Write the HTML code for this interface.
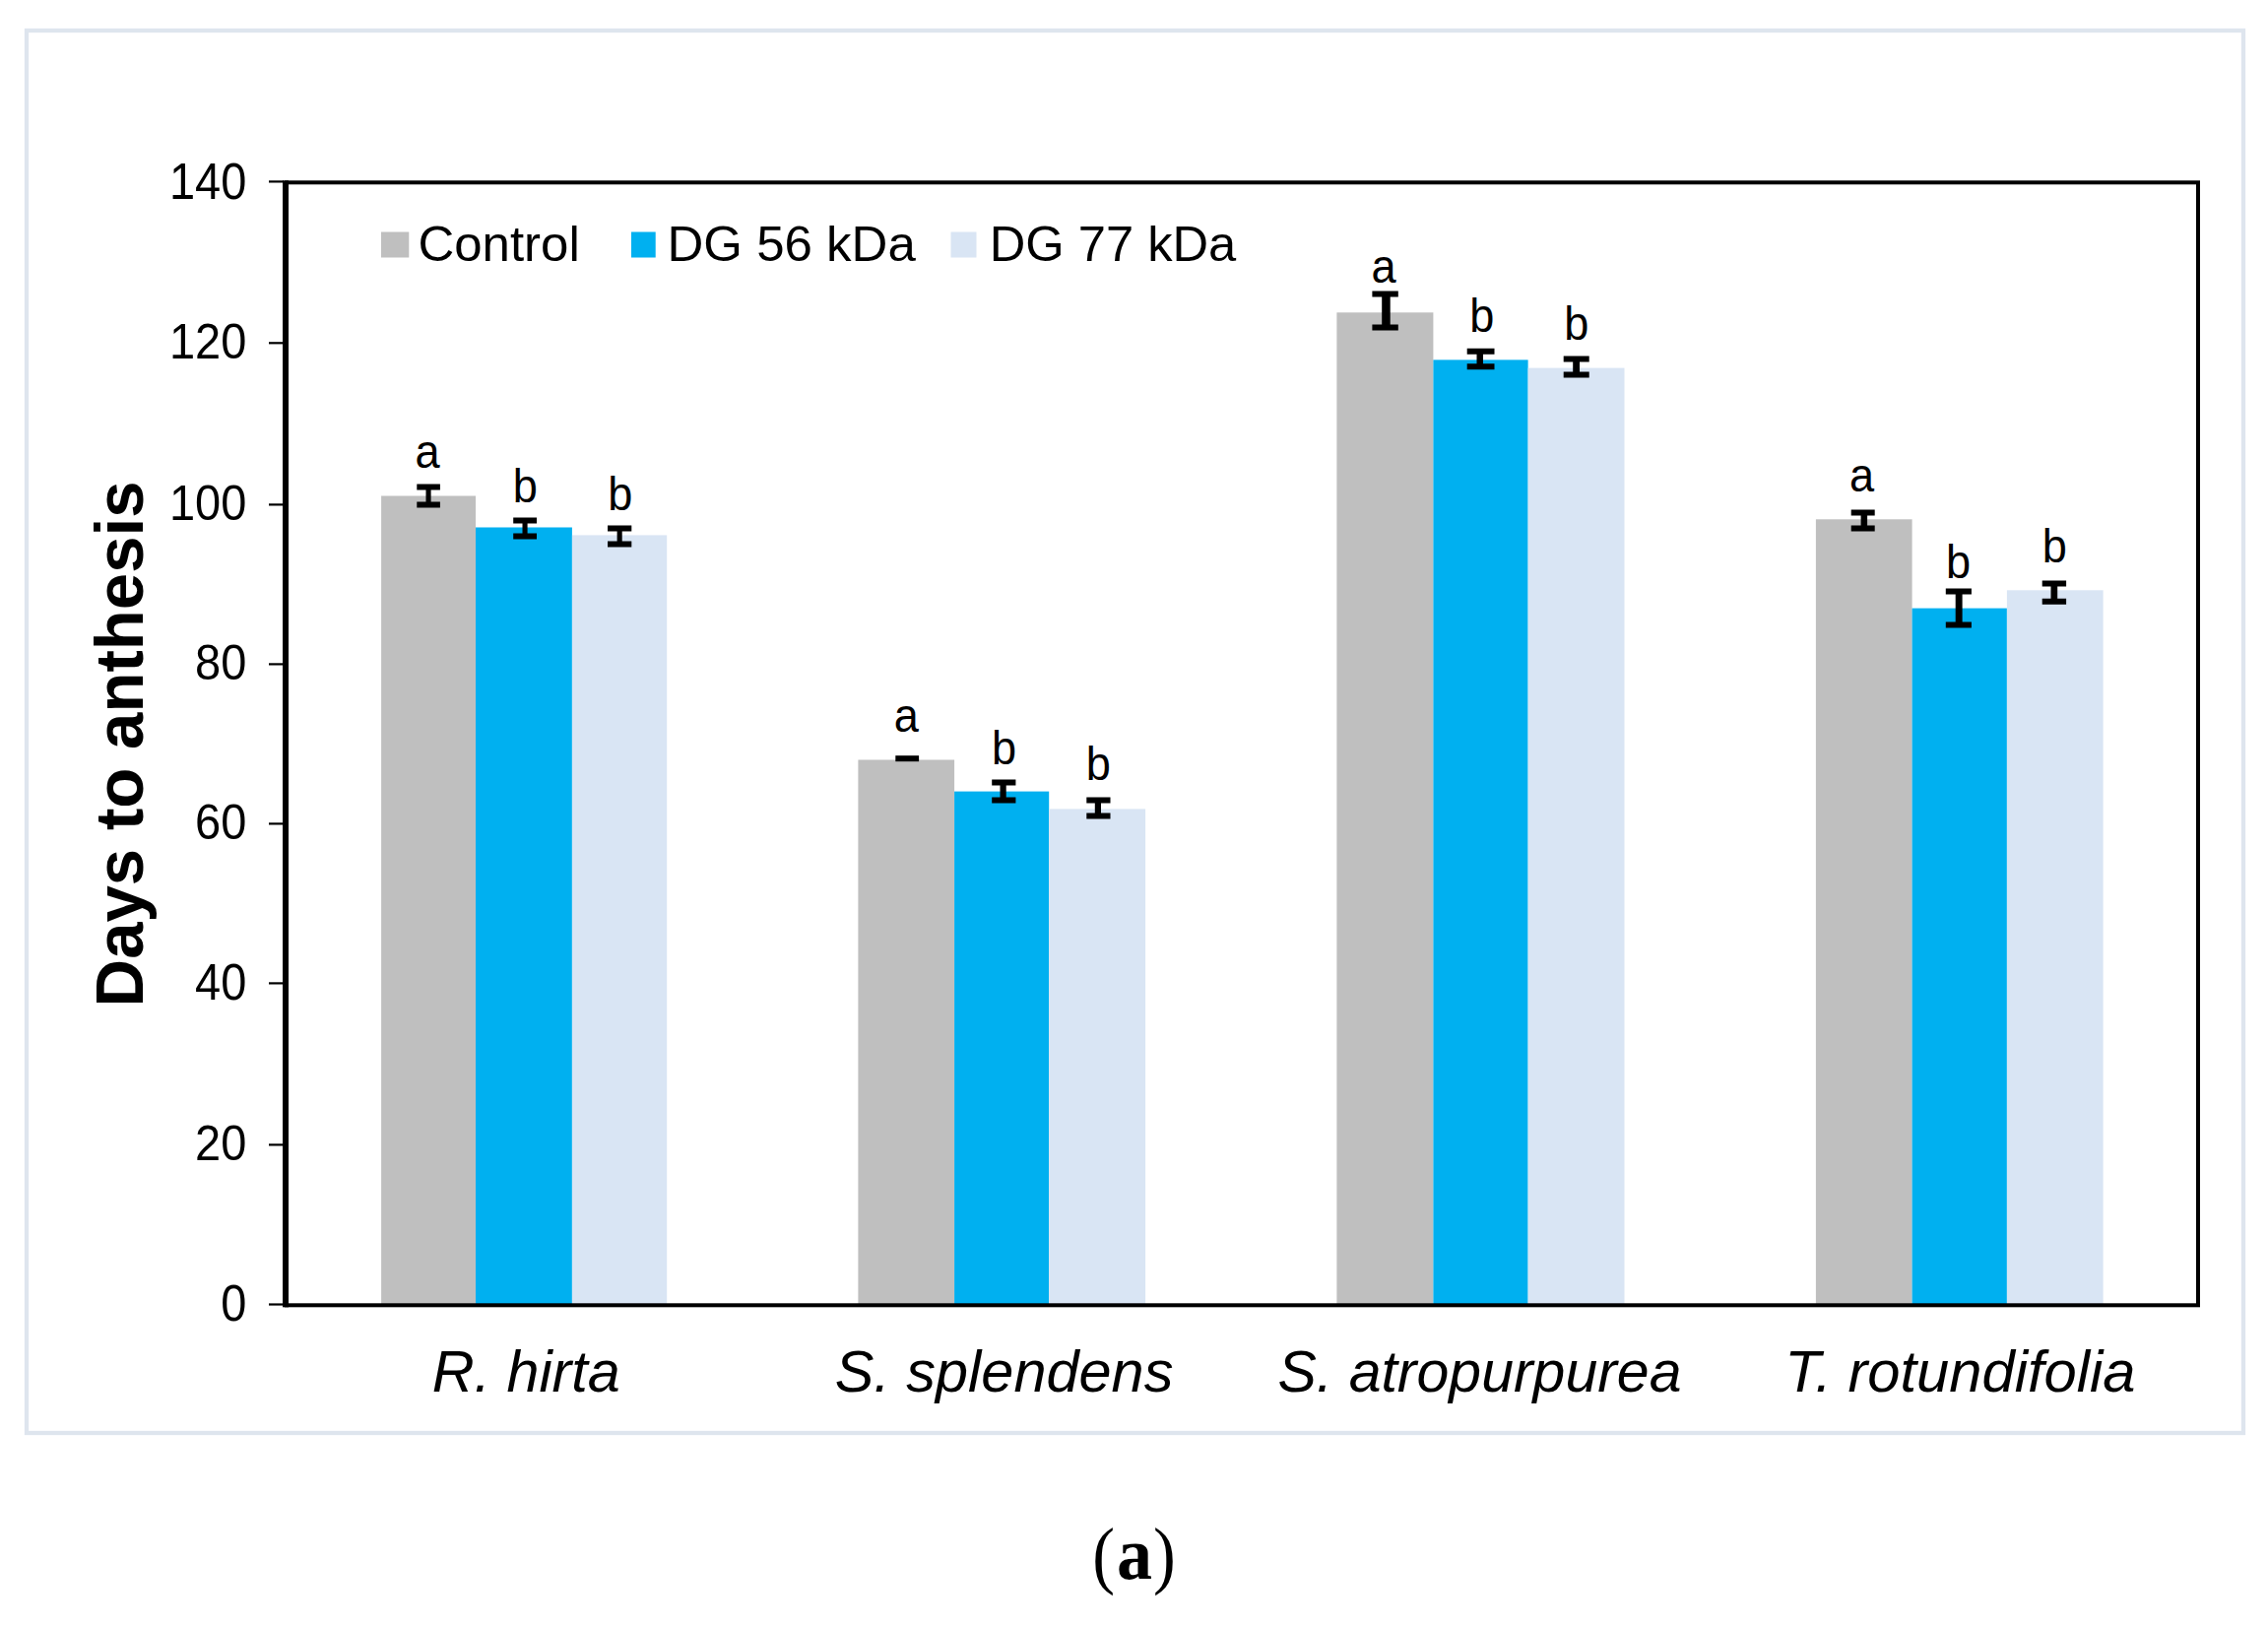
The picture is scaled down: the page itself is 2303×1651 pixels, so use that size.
<!DOCTYPE html>
<html lang="en"><head><meta charset="utf-8"><title>Days to anthesis</title>
<style>
html,body{margin:0;padding:0;background:#fff;}
body{width:2303px;height:1651px;overflow:hidden;}
svg{display:block;}
text{font-family:'Liberation Sans', Arial, sans-serif;fill:#000;}
.ser{font-family:'Liberation Serif', 'Times New Roman', serif;fill:#000;}
</style></head><body>
<svg width="2303" height="1651" viewBox="0 0 2303 1651">
<rect x="0" y="0" width="2303" height="1651" fill="#fff"/>
<rect x="27" y="31" width="2251" height="1424" fill="none" stroke="#dee5ee" stroke-width="4.3"/>
<rect x="387.1" y="503.5" width="95.9" height="821.8" fill="#bfbfbf"/>
<rect x="483.0" y="535.5" width="97.9" height="789.8" fill="#00b0f0"/>
<rect x="580.9" y="543.4" width="96.3" height="781.9" fill="#d9e5f4"/>
<rect x="871.4" y="771.5" width="97.7" height="553.8" fill="#bfbfbf"/>
<rect x="969.1" y="803.6" width="96.1" height="521.7" fill="#00b0f0"/>
<rect x="1065.2" y="821.4" width="97.9" height="503.9" fill="#d9e5f4"/>
<rect x="1357.4" y="317.3" width="98.0" height="1008.0" fill="#bfbfbf"/>
<rect x="1455.4" y="365.4" width="96.2" height="959.9" fill="#00b0f0"/>
<rect x="1551.6" y="373.6" width="97.9" height="951.7" fill="#d9e5f4"/>
<rect x="1843.9" y="527.3" width="97.7" height="798.0" fill="#bfbfbf"/>
<rect x="1941.6" y="617.6" width="96.3" height="707.7" fill="#00b0f0"/>
<rect x="2037.9" y="599.3" width="97.7" height="726.0" fill="#d9e5f4"/>
<rect x="291" y="185.3" width="1941" height="1140" fill="none" stroke="#000" stroke-width="4"/>
<rect x="287" y="183.3" width="6" height="1144" fill="#000"/>
<rect x="273" y="183.3" width="15" height="2.2" fill="#000"/>
<text transform="translate(250.30 201.60) scale(0.9400 1.0400)" font-size="50" text-anchor="end">140</text>
<rect x="273" y="347.2" width="15" height="2.2" fill="#000"/>
<text transform="translate(250.30 363.70) scale(0.9400 1.0000)" font-size="50" text-anchor="end">120</text>
<rect x="273" y="511.3" width="15" height="2.2" fill="#000"/>
<text transform="translate(250.30 527.80) scale(0.9400 1.0000)" font-size="50" text-anchor="end">100</text>
<rect x="273" y="673.3" width="15" height="2.2" fill="#000"/>
<text transform="translate(250.30 689.80) scale(0.9400 1.0000)" font-size="50" text-anchor="end">80</text>
<rect x="273" y="835.3" width="15" height="2.2" fill="#000"/>
<text transform="translate(250.30 851.80) scale(0.9400 1.0000)" font-size="50" text-anchor="end">60</text>
<rect x="273" y="997.3" width="15" height="2.2" fill="#000"/>
<text transform="translate(250.30 1015.30) scale(0.9400 1.0400)" font-size="50" text-anchor="end">40</text>
<rect x="273" y="1161.3" width="15" height="2.2" fill="#000"/>
<text transform="translate(250.30 1177.80) scale(0.9400 1.0000)" font-size="50" text-anchor="end">20</text>
<rect x="273" y="1323.4" width="15" height="2.2" fill="#000"/>
<text transform="translate(250.30 1341.20) scale(0.9400 1.0300)" font-size="50" text-anchor="end">0</text>
<path fill="#000" d="M423.3 491.6H446.9V497.6H437.6V509.6H446.9V515.6H423.3V509.6H432.5V497.6H423.3Z"/>
<path fill="#000" d="M521.2 525.5H545.0V531.5H535.6V541.6H545.0V547.6H521.2V541.6H530.5V531.5H521.2Z"/>
<path fill="#000" d="M617.0 533.5H641.3V539.5H631.7V549.5H641.3V555.5H617.0V549.5H626.6V539.5H617.0Z"/>
<rect x="909.3" y="767.2" width="23.8" height="6.0" fill="#000"/>
<path fill="#000" d="M1007.2 791.6H1031.4V797.6H1021.7V809.6H1031.4V815.6H1007.2V809.6H1015.5V797.6H1007.2Z"/>
<path fill="#000" d="M1103.3 809.6H1127.5V815.6H1118.0V825.6H1127.5V831.6H1103.3V825.6H1111.8V815.6H1103.3Z"/>
<path fill="#000" d="M1393.4 295.6H1419.8V301.6H1411.7V329.5H1419.8V335.5H1393.4V329.5H1403.2V301.6H1393.4Z"/>
<path fill="#000" d="M1489.7 353.8H1517.5V359.8H1506.0V369.3H1517.5V375.3H1489.7V369.3H1499.5V359.8H1489.7Z"/>
<path fill="#000" d="M1587.7 361.6H1613.7V367.6H1604.0V377.4H1613.7V383.4H1587.7V377.4H1597.2V367.6H1587.7Z"/>
<path fill="#000" d="M1879.7 517.6H1903.7V523.6H1896.1V533.6H1903.7V539.6H1879.7V533.6H1889.6V523.6H1879.7Z"/>
<path fill="#000" d="M1975.8 597.5H2001.9V603.5H1992.6V631.5H2001.9V637.5H1975.8V631.5H1985.7V603.5H1975.8Z"/>
<path fill="#000" d="M2073.7 589.6H2098.1V595.6H2089.2V607.7H2098.1V613.7H2073.7V607.7H2082.5V595.6H2073.7Z"/>
<text transform="translate(434.00 475.00) scale(0.9400 1.0000)" font-size="48" text-anchor="middle">a</text>
<text transform="translate(533.30 510.00) scale(0.9400 1.0000)" font-size="48" text-anchor="middle">b</text>
<text transform="translate(629.80 517.60) scale(0.9400 1.0000)" font-size="48" text-anchor="middle">b</text>
<text transform="translate(920.30 742.60) scale(0.9400 1.0000)" font-size="48" text-anchor="middle">a</text>
<text transform="translate(1019.50 775.70) scale(0.9400 1.0000)" font-size="48" text-anchor="middle">b</text>
<text transform="translate(1115.20 791.70) scale(0.9400 1.0000)" font-size="48" text-anchor="middle">b</text>
<text transform="translate(1405.10 286.50) scale(0.9400 1.0000)" font-size="48" text-anchor="middle">a</text>
<text transform="translate(1504.80 337.00) scale(0.9400 1.0000)" font-size="48" text-anchor="middle">b</text>
<text transform="translate(1600.70 345.00) scale(0.9400 1.0000)" font-size="48" text-anchor="middle">b</text>
<text transform="translate(1890.60 499.30) scale(0.9400 1.0000)" font-size="48" text-anchor="middle">a</text>
<text transform="translate(1988.50 587.10) scale(0.9400 1.0000)" font-size="48" text-anchor="middle">b</text>
<text transform="translate(2086.20 571.20) scale(0.9400 1.0000)" font-size="48" text-anchor="middle">b</text>
<rect x="387" y="235.5" width="28.3" height="26" fill="#bfbfbf"/>
<rect x="641" y="235.5" width="24.7" height="26" fill="#00b0f0"/>
<rect x="965.5" y="235.5" width="26" height="26" fill="#d9e5f4"/>
<text transform="translate(424.40 264.80) scale(1.0200 1.0000)" font-size="50" text-anchor="start">Control</text>
<text transform="translate(677.50 264.80) scale(1.0200 1.0000)" font-size="50" text-anchor="start">DG 56 kDa</text>
<text transform="translate(1004.80 264.80) scale(1.0130 1.0000)" font-size="50" text-anchor="start">DG 77 kDa</text>
<text transform="translate(534.20 1413.00) scale(1.0050 1.0000)" font-size="59" text-anchor="middle" font-style="italic">R. hirta</text>
<text transform="translate(1019.50 1413.00) scale(1.0080 1.0000)" font-size="59" text-anchor="middle" font-style="italic">S. splendens</text>
<text transform="translate(1502.50 1413.00) scale(1.0000 1.0000)" font-size="59" text-anchor="middle" font-style="italic">S. atropurpurea</text>
<text transform="translate(1990.40 1413.00) scale(1.0120 1.0000)" font-size="59" text-anchor="middle" font-style="italic">T. rotundifolia</text>
<text transform="translate(144.8 1022.4) rotate(-90) scale(1.003 1.03)" font-size="67" font-weight="bold">Days to anthesis</text>
<text transform="translate(1120.70 1603.90) scale(0.9000 1.0000)" font-size="76" text-anchor="middle" class="ser">(</text>
<text transform="translate(1151.90 1603.00) scale(1.0000 1.0500)" font-size="72" text-anchor="middle" class="ser" font-weight="bold">a</text>
<text transform="translate(1182.50 1603.90) scale(0.9000 1.0000)" font-size="76" text-anchor="middle" class="ser">)</text>
</svg></body></html>
